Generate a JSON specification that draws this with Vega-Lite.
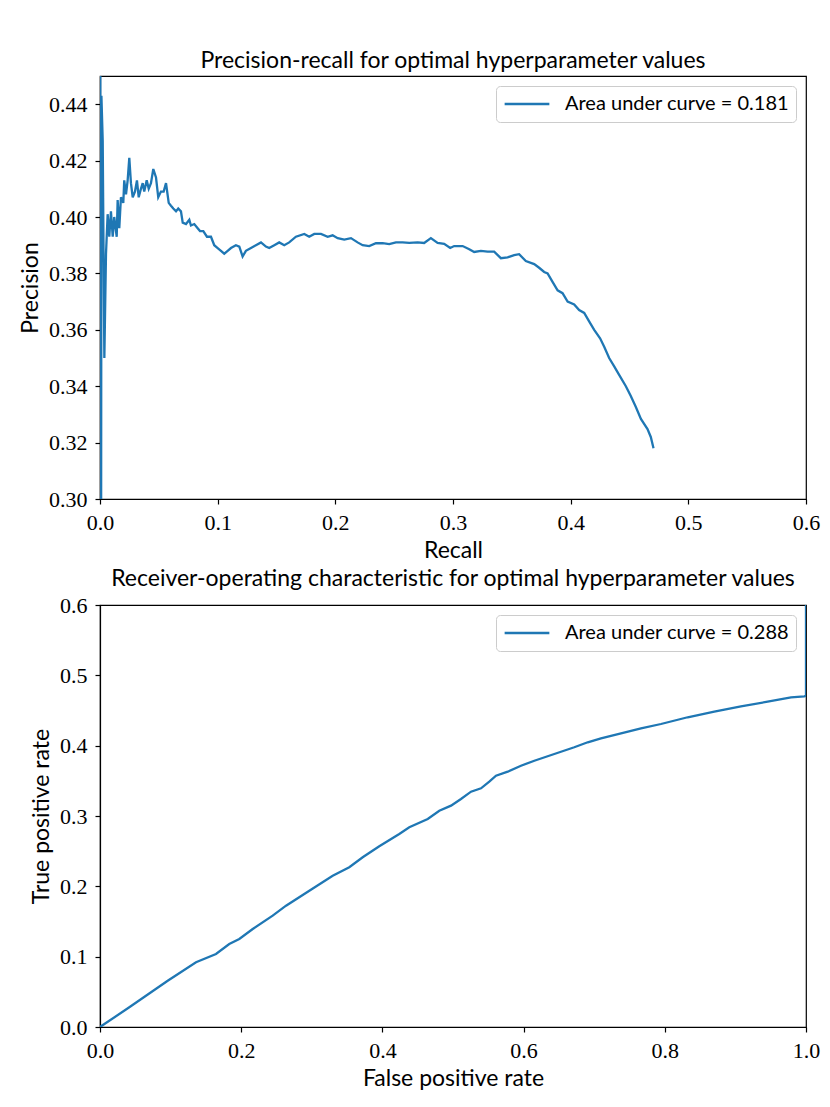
{
  "$schema": "https://vega.github.io/schema/vega-lite/v6.json",
  "background": "white",
  "padding": {"left": 18, "top": 49, "right": 20, "bottom": 5},
  "datasets": {
    "pr": [
      {"recall": 0.0, "precision": 1.0},
      {"recall": 0.0005, "precision": 0.0},
      {"recall": 0.0012, "precision": 0.443},
      {"recall": 0.0023, "precision": 0.427},
      {"recall": 0.0037, "precision": 0.350},
      {"recall": 0.0051, "precision": 0.387},
      {"recall": 0.0065, "precision": 0.401},
      {"recall": 0.0079, "precision": 0.393},
      {"recall": 0.0093, "precision": 0.402},
      {"recall": 0.0108, "precision": 0.393},
      {"recall": 0.0121, "precision": 0.400},
      {"recall": 0.0142, "precision": 0.393},
      {"recall": 0.0150, "precision": 0.406},
      {"recall": 0.0164, "precision": 0.396},
      {"recall": 0.0178, "precision": 0.407},
      {"recall": 0.0198, "precision": 0.405},
      {"recall": 0.0206, "precision": 0.413},
      {"recall": 0.0221, "precision": 0.408},
      {"recall": 0.0235, "precision": 0.413},
      {"recall": 0.0249, "precision": 0.421},
      {"recall": 0.0263, "precision": 0.412},
      {"recall": 0.0278, "precision": 0.407},
      {"recall": 0.0297, "precision": 0.409},
      {"recall": 0.0314, "precision": 0.413},
      {"recall": 0.0329, "precision": 0.407},
      {"recall": 0.0348, "precision": 0.410},
      {"recall": 0.0363, "precision": 0.412},
      {"recall": 0.0376, "precision": 0.409},
      {"recall": 0.0397, "precision": 0.413},
      {"recall": 0.0414, "precision": 0.410},
      {"recall": 0.0433, "precision": 0.412},
      {"recall": 0.0453, "precision": 0.417},
      {"recall": 0.0476, "precision": 0.414},
      {"recall": 0.0495, "precision": 0.407},
      {"recall": 0.0518, "precision": 0.409},
      {"recall": 0.0541, "precision": 0.409},
      {"recall": 0.0561, "precision": 0.412},
      {"recall": 0.0584, "precision": 0.405},
      {"recall": 0.0603, "precision": 0.404},
      {"recall": 0.0623, "precision": 0.403},
      {"recall": 0.0646, "precision": 0.402},
      {"recall": 0.0665, "precision": 0.403},
      {"recall": 0.0688, "precision": 0.402},
      {"recall": 0.0703, "precision": 0.398},
      {"recall": 0.0731, "precision": 0.3975},
      {"recall": 0.0759, "precision": 0.399},
      {"recall": 0.0773, "precision": 0.397},
      {"recall": 0.0801, "precision": 0.3975},
      {"recall": 0.0830, "precision": 0.396},
      {"recall": 0.0850, "precision": 0.395},
      {"recall": 0.0878, "precision": 0.395},
      {"recall": 0.0909, "precision": 0.393},
      {"recall": 0.0943, "precision": 0.393},
      {"recall": 0.0971, "precision": 0.390},
      {"recall": 0.1000, "precision": 0.389},
      {"recall": 0.1028, "precision": 0.388},
      {"recall": 0.1056, "precision": 0.387},
      {"recall": 0.1085, "precision": 0.388},
      {"recall": 0.1113, "precision": 0.389},
      {"recall": 0.1155, "precision": 0.390},
      {"recall": 0.1184, "precision": 0.3895},
      {"recall": 0.1212, "precision": 0.386},
      {"recall": 0.1240, "precision": 0.388},
      {"recall": 0.1283, "precision": 0.389},
      {"recall": 0.1325, "precision": 0.390},
      {"recall": 0.1368, "precision": 0.391},
      {"recall": 0.1410, "precision": 0.3895},
      {"recall": 0.1438, "precision": 0.389},
      {"recall": 0.1481, "precision": 0.390},
      {"recall": 0.1523, "precision": 0.391},
      {"recall": 0.1566, "precision": 0.390},
      {"recall": 0.1608, "precision": 0.391},
      {"recall": 0.1665, "precision": 0.393},
      {"recall": 0.1736, "precision": 0.394},
      {"recall": 0.1778, "precision": 0.393},
      {"recall": 0.1821, "precision": 0.394},
      {"recall": 0.1878, "precision": 0.394},
      {"recall": 0.1935, "precision": 0.393},
      {"recall": 0.1977, "precision": 0.3935},
      {"recall": 0.2020, "precision": 0.3925},
      {"recall": 0.2076, "precision": 0.392},
      {"recall": 0.2133, "precision": 0.3925},
      {"recall": 0.2189, "precision": 0.391},
      {"recall": 0.2232, "precision": 0.390},
      {"recall": 0.2288, "precision": 0.3897},
      {"recall": 0.2345, "precision": 0.3907},
      {"recall": 0.2402, "precision": 0.3907},
      {"recall": 0.2458, "precision": 0.3904},
      {"recall": 0.2515, "precision": 0.391},
      {"recall": 0.2572, "precision": 0.391},
      {"recall": 0.2628, "precision": 0.3908},
      {"recall": 0.2699, "precision": 0.391},
      {"recall": 0.2755, "precision": 0.3908},
      {"recall": 0.2812, "precision": 0.3925},
      {"recall": 0.2869, "precision": 0.3908},
      {"recall": 0.2925, "precision": 0.3905},
      {"recall": 0.2976, "precision": 0.389},
      {"recall": 0.3010, "precision": 0.3897},
      {"recall": 0.3082, "precision": 0.3897},
      {"recall": 0.3138, "precision": 0.3886},
      {"recall": 0.3180, "precision": 0.3876},
      {"recall": 0.3237, "precision": 0.388},
      {"recall": 0.3294, "precision": 0.3877},
      {"recall": 0.3350, "precision": 0.3877},
      {"recall": 0.3407, "precision": 0.3854},
      {"recall": 0.3464, "precision": 0.3857},
      {"recall": 0.3520, "precision": 0.3865},
      {"recall": 0.3562, "precision": 0.3868},
      {"recall": 0.3619, "precision": 0.3844},
      {"recall": 0.3690, "precision": 0.3833},
      {"recall": 0.3732, "precision": 0.382},
      {"recall": 0.3775, "precision": 0.3805},
      {"recall": 0.3804, "precision": 0.380},
      {"recall": 0.3846, "precision": 0.377},
      {"recall": 0.3889, "precision": 0.374},
      {"recall": 0.3931, "precision": 0.373},
      {"recall": 0.3974, "precision": 0.370},
      {"recall": 0.4030, "precision": 0.369},
      {"recall": 0.4072, "precision": 0.367},
      {"recall": 0.4115, "precision": 0.366},
      {"recall": 0.4157, "precision": 0.363},
      {"recall": 0.4200, "precision": 0.360},
      {"recall": 0.4250, "precision": 0.357},
      {"recall": 0.4285, "precision": 0.354},
      {"recall": 0.4327, "precision": 0.350},
      {"recall": 0.4370, "precision": 0.347},
      {"recall": 0.4412, "precision": 0.344},
      {"recall": 0.4469, "precision": 0.340},
      {"recall": 0.4511, "precision": 0.3365},
      {"recall": 0.4554, "precision": 0.3326},
      {"recall": 0.4597, "precision": 0.3284},
      {"recall": 0.4653, "precision": 0.3248},
      {"recall": 0.4681, "precision": 0.322},
      {"recall": 0.4704, "precision": 0.318}
    ],
    "roc": [
      {"fpr": 0.0, "tpr": 0.0},
      {"fpr": 0.0415, "tpr": 0.028},
      {"fpr": 0.0959, "tpr": 0.0658},
      {"fpr": 0.136, "tpr": 0.092},
      {"fpr": 0.1643, "tpr": 0.1038},
      {"fpr": 0.1831, "tpr": 0.118},
      {"fpr": 0.1973, "tpr": 0.1251},
      {"fpr": 0.2163, "tpr": 0.1393},
      {"fpr": 0.2446, "tpr": 0.1583},
      {"fpr": 0.2635, "tpr": 0.1725},
      {"fpr": 0.2965, "tpr": 0.1938},
      {"fpr": 0.3296, "tpr": 0.2151},
      {"fpr": 0.3531, "tpr": 0.2271},
      {"fpr": 0.3721, "tpr": 0.2413},
      {"fpr": 0.3956, "tpr": 0.2569},
      {"fpr": 0.4239, "tpr": 0.2744},
      {"fpr": 0.4381, "tpr": 0.2839},
      {"fpr": 0.4642, "tpr": 0.2957},
      {"fpr": 0.4806, "tpr": 0.3075},
      {"fpr": 0.4972, "tpr": 0.3147},
      {"fpr": 0.5113, "tpr": 0.3242},
      {"fpr": 0.5255, "tpr": 0.3346},
      {"fpr": 0.5397, "tpr": 0.3394},
      {"fpr": 0.5514, "tpr": 0.3488},
      {"fpr": 0.5609, "tpr": 0.3573},
      {"fpr": 0.5775, "tpr": 0.363},
      {"fpr": 0.5963, "tpr": 0.3715},
      {"fpr": 0.6152, "tpr": 0.3786},
      {"fpr": 0.6435, "tpr": 0.3882},
      {"fpr": 0.6718, "tpr": 0.3977},
      {"fpr": 0.6908, "tpr": 0.4048},
      {"fpr": 0.7096, "tpr": 0.4105},
      {"fpr": 0.738, "tpr": 0.4176},
      {"fpr": 0.7663, "tpr": 0.4247},
      {"fpr": 0.7946, "tpr": 0.4308},
      {"fpr": 0.8324, "tpr": 0.4404},
      {"fpr": 0.8701, "tpr": 0.4483},
      {"fpr": 0.9079, "tpr": 0.456},
      {"fpr": 0.9457, "tpr": 0.4625},
      {"fpr": 0.9788, "tpr": 0.4688},
      {"fpr": 0.9976, "tpr": 0.4702},
      {"fpr": 1.0, "tpr": 0.471},
      {"fpr": 1.0, "tpr": 1.0}
    ]
  },
  "spacing": 4,
  "vconcat": [
    {
      "title": "Precision-recall for optimal hyperparameter values",
      "width": 706,
      "height": 423,
      "data": {"name": "pr"},
      "mark": {"type": "line", "clip": true, "strokeWidth": 2.3},
      "encoding": {
        "x": {
          "field": "recall",
          "type": "quantitative",
          "scale": {"domain": [0, 0.6], "nice": false, "zero": false},
          "axis": {"title": "Recall", "values": [0, 0.1, 0.2, 0.3, 0.4, 0.5, 0.6], "format": ".1f", "labelFont": "Liberation Serif", "titleFont": "Lato"}
        },
        "y": {
          "field": "precision",
          "type": "quantitative",
          "scale": {"domain": [0.3, 0.45], "nice": false, "zero": false},
          "axis": {"title": "Precision", "values": [0.3, 0.32, 0.34, 0.36, 0.38, 0.4, 0.42, 0.44], "format": ".2f", "labelFont": "Liberation Serif", "titleFont": "Lato"}
        },
        "color": {
          "datum": "Area under curve = 0.181",
          "scale": {"range": ["#1f77b4"]},
          "legend": {"title": null}
        },
        "order": {"value": null}
      }
    },
    {
      "title": "Receiver-operating characteristic for optimal hyperparameter values",
      "width": 706,
      "height": 422,
      "data": {"name": "roc"},
      "mark": {"type": "line", "clip": true, "strokeWidth": 2.3},
      "encoding": {
        "x": {
          "field": "fpr",
          "type": "quantitative",
          "scale": {"domain": [0, 1], "nice": false},
          "axis": {"title": "False positive rate", "values": [0, 0.2, 0.4, 0.6, 0.8, 1.0], "format": ".1f", "labelFont": "Liberation Serif", "titleFont": "Lato"}
        },
        "y": {
          "field": "tpr",
          "type": "quantitative",
          "scale": {"domain": [0, 0.6], "nice": false},
          "axis": {"title": "True positive rate", "values": [0, 0.1, 0.2, 0.3, 0.4, 0.5, 0.6], "format": ".1f", "labelFont": "Liberation Serif", "titleFont": "Lato"}
        },
        "color": {
          "datum": "Area under curve = 0.288",
          "scale": {"range": ["#1f77b4"]},
          "legend": {"title": null}
        },
        "order": {"value": null}
      }
    }
  ],
  "resolve": {"scale": {"color": "independent"}},
  "config": {
    "view": {"stroke": "black", "strokeWidth": 1.2},
    "axis": {
      "grid": false,
      "domainColor": "black",
      "domainWidth": 1.2,
      "tickColor": "black",
      "tickWidth": 1.2,
      "tickSize": 5,
      "labelFont": "Liberation Serif",
      "labelFontSize": 22,
      "labelColor": "black",
      "labelPadding": 8,
      "labelFlush": false,
      "labelOverlap": false,
      "titleFont": "Lato",
      "titleFontSize": 23,
      "titleFontWeight": "normal",
      "titleColor": "black",
      "titlePadding": 6
    },
    "title": {"font": "Lato", "fontSize": 23, "fontWeight": "normal", "color": "black", "offset": 3},
    "legend": {
      "orient": "top-right",
      "offset": 10,
      "symbolType": "stroke",
      "symbolSize": 2000,
      "symbolStrokeWidth": 2.3,
      "clipHeight": 22,
      "labelFont": "Lato",
      "labelFontSize": 20,
      "labelColor": "black",
      "labelLimit": 400,
      "labelOffset": 14,
      "padding": 7,
      "strokeColor": "#cccccc",
      "fillColor": "white",
      "cornerRadius": 4
    }
  }
}
